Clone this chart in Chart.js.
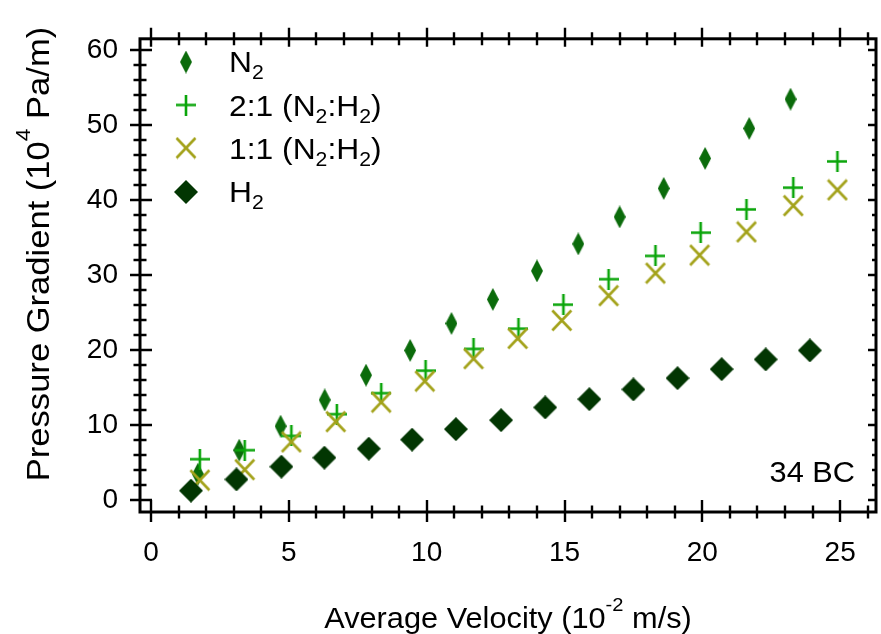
<!DOCTYPE html>
<html>
<head>
<meta charset="utf-8">
<script src="https://cdn.jsdelivr.net/npm/chart.js@4.4.1/dist/chart.umd.min.js"></script>
<style>
html,body{margin:0;padding:0;background:#ffffff;}
canvas{display:block;}
</style>
</head>
<body>
<canvas id="c" width="881" height="634"></canvas>
<script>
// ---------- data ----------
const n2X   = [1.7, 3.2, 4.7, 6.3, 7.8, 9.4, 10.9, 12.4, 14.0, 15.5, 17.0, 18.6, 20.1, 21.7, 23.2];
const n2Y   = [3.5, 6.7, 9.9, 13.4, 16.7, 20.0, 23.6, 26.8, 30.6, 34.2, 37.8, 41.6, 45.6, 49.6, 53.5];

const mix21X = [1.77, 3.4, 5.09, 6.74, 8.35, 9.96, 11.7, 13.33, 14.96, 16.6, 18.3, 19.94, 21.6, 23.3, 24.9];
const mix21Y = [5.5, 6.7, 8.6, 11.5, 14.3, 17.3, 20.2, 22.9, 26.1, 29.5, 32.6, 35.7, 38.8, 41.7, 45.2];

const mix11X = [1.77, 3.4, 5.09, 6.7, 8.35, 9.93, 11.7, 13.3, 14.9, 16.6, 18.3, 19.9, 21.6, 23.3, 24.9];
const mix11Y = [2.7, 4.1, 7.8, 10.5, 13.1, 15.9, 18.9, 21.6, 24.0, 27.3, 30.3, 32.7, 35.8, 39.3, 41.4];

const h2X   = [1.45, 3.1, 4.73, 6.29, 7.9, 9.47, 11.06, 12.7, 14.3, 15.9, 17.5, 19.1, 20.7, 22.3, 23.9];
const h2Y   = [1.3, 2.8, 4.5, 5.7, 6.9, 8.1, 9.5, 10.7, 12.4, 13.5, 14.8, 16.3, 17.5, 18.8, 20.0];

const xTickLabels = [0, 5, 10, 15, 20, 25];
const yTickLabels = [0, 10, 20, 30, 40, 50, 60];
const xMinorTicks = [0,1,2,3,4,5,6,7,8,9,10,11,12,13,14,15,16,17,18,19,20,21,22,23,24,25,26];
const yMinorTicks = [0,2,4,6,8,10,12,14,16,18,20,22,24,26,28,30,32,34,36,38,40,42,44,46,48,50,52,54,56,58,60];

// legend labels: [text, kind] kind 0 normal, -1 subscript, 1 superscript
const legendLabels = [
  [['N',0],['2',-1]],
  [['2:1 (N',0],['2',-1],[':H',0],['2',-1],[')',0]],
  [['1:1 (N',0],['2',-1],[':H',0],['2',-1],[')',0]],
  [['H',0],['2',-1]]
];
const xTitle = [['Average Velocity (10',0],['-2',1],[' m/s)',0]];
const yTitle = [['Pressure Gradient (10',0],['4',1],[' Pa/m)',0]];
const annotationText = '34 BC';

// ---------- styles ----------
const FONT = '"Liberation Sans", Arial, Helvetica, sans-serif';
const colN2 = '#0b6b0b', col21 = '#0aa50a', col11 = '#a3a21a', colH2 = '#023602';

function makeMarker(w, h, draw) {
  const c = document.createElement('canvas');
  c.width = w; c.height = h;
  draw(c.getContext('2d'), w, h);
  return c;
}
const mkN2 = makeMarker(12, 23, (g, w, h) => {
  g.fillStyle = colN2; g.beginPath();
  g.moveTo(w/2, 0); g.lineTo(w, h/2); g.lineTo(w/2, h); g.lineTo(0, h/2); g.closePath(); g.fill();
});
const mk21 = makeMarker(20, 21, (g, w, h) => {
  g.strokeStyle = col21; g.lineWidth = 2.6; g.beginPath();
  g.moveTo(0, h/2); g.lineTo(w, h/2); g.moveTo(w/2, 0); g.lineTo(w/2, h); g.stroke();
});
const mk11 = makeMarker(22, 23, (g, w, h) => {
  g.strokeStyle = col11; g.lineWidth = 2.6; g.beginPath();
  g.moveTo(1.5, 1.5); g.lineTo(w-1.5, h-1.5); g.moveTo(w-1.5, 1.5); g.lineTo(1.5, h-1.5); g.stroke();
});
const mkH2 = makeMarker(24, 24, (g, w, h) => {
  g.fillStyle = colH2; g.beginPath();
  g.moveTo(w/2, 0); g.lineTo(w, h/2); g.lineTo(w/2, h); g.lineTo(0, h/2); g.closePath(); g.fill();
});
const markers = [mkN2, mk21, mk11, mkH2];

function pts(xs, ys) { return xs.map((x, i) => ({x: x, y: ys[i]})); }

// ---------- rich text helper ----------
function drawRich(ctx, parts, x, y, size, sx, align) {
  ctx.save();
  ctx.translate(x, y);
  ctx.scale(sx, 1);
  ctx.textBaseline = 'alphabetic';
  ctx.textAlign = 'left';
  const fontOf = k => (k === 0 ? size : Math.round(size * 0.66)) + 'px ' + FONT;
  let w = 0;
  parts.forEach(p => { ctx.font = fontOf(p[1]); w += ctx.measureText(p[0]).width; });
  let cx = align === 'center' ? -w / 2 : (align === 'right' ? -w : 0);
  parts.forEach(p => {
    ctx.font = fontOf(p[1]);
    const dy = p[1] === 1 ? -size * 0.6 : (p[1] === -1 ? size * 0.22 : 0);
    ctx.fillText(p[0], cx, dy);
    cx += ctx.measureText(p[0]).width;
  });
  ctx.restore();
}

const framePlugin = {
  id: 'frame',
  afterDatasetsDraw(chart) {
    const ctx = chart.ctx, a = chart.chartArea, xs = chart.scales.x, ys = chart.scales.y;
    ctx.save();
    ctx.strokeStyle = '#000';
    ctx.lineWidth = 2.4;
    ctx.beginPath();
    xMinorTicks.forEach(v => {
      const px = Math.round(xs.getPixelForValue(v));
      const major = xTickLabels.includes(v);
      ctx.moveTo(px, a.bottom - (major ? 12 : 6.5)); ctx.lineTo(px, a.bottom + (major ? 10 : 6.5));
      ctx.moveTo(px, a.top - (major ? 11 : 6.5)); ctx.lineTo(px, a.top + (major ? 8 : 6.5));
    });
    yMinorTicks.forEach(v => {
      const py = Math.round(ys.getPixelForValue(v));
      const major = yTickLabels.includes(v);
      ctx.moveTo(a.left - (major ? 10 : 6.5), py); ctx.lineTo(a.left + (major ? 12 : 6.5), py);
      ctx.moveTo(a.right - (major ? 8 : 4), py); ctx.lineTo(a.right, py);
    });
    ctx.stroke();
    ctx.lineWidth = 3;
    ctx.strokeRect(a.left, a.top, a.right - a.left, a.bottom - a.top);
    ctx.restore();
  },
  afterDraw(chart) {
    const ctx = chart.ctx, a = chart.chartArea;
    ctx.save();
    ctx.fillStyle = '#000';
    drawRich(ctx, xTitle, (a.left + a.right) / 2, 628, 29, 1.06, 'center');
    ctx.save();
    ctx.translate(49, 254);
    ctx.rotate(-Math.PI / 2);
    drawRich(ctx, yTitle, 0, 0, 32, 1.08, 'center');
    ctx.restore();
    drawRich(ctx, [[annotationText, 0]], 855, 482, 29, 1.06, 'right');
    const rowY = [62, 105, 148, 192];
    const base = [72, 116, 159, 202];
    legendLabels.forEach((lab, i) => {
      const m = markers[i];
      ctx.drawImage(m, 186 - m.width / 2, rowY[i] - m.height / 2);
      drawRich(ctx, lab, 229, base[i], 30, 1.06, 'left');
    });
    ctx.restore();
  }
};

const tickFont = {family: FONT, size: 28};

new Chart(document.getElementById('c'), {
  type: 'scatter',
  data: {
    datasets: [
      {label: 'N2', data: pts(n2X, n2Y), pointStyle: mkN2, order: 4, showLine: false},
      {label: '2:1 (N2:H2)', data: pts(mix21X, mix21Y), pointStyle: mk21, order: 3, showLine: false},
      {label: '1:1 (N2:H2)', data: pts(mix11X, mix11Y), pointStyle: mk11, order: 2, showLine: false},
      {label: 'H2', data: pts(h2X, h2Y), pointStyle: mkH2, order: 1, showLine: false}
    ]
  },
  options: {
    responsive: false,
    animation: false,
    devicePixelRatio: 1,
    layout: {padding: {top: 22, right: 2, left: 0, bottom: 0}},
    plugins: {legend: {display: false}, tooltip: {enabled: false}, title: {display: false}},
    scales: {
      x: {
        type: 'linear', min: -0.4, max: 26.3,
        afterBuildTicks: s => { s.ticks = xTickLabels.map(v => ({value: v})); },
        afterFit: s => { s.height = 122; },
        grid: {display: false, drawTicks: false},
        border: {display: false},
        ticks: {font: tickFont, color: '#000', padding: 24, maxRotation: 0, autoSkip: false}
      },
      y: {
        type: 'linear', min: -1.55, max: 61.55,
        afterBuildTicks: s => { s.ticks = yTickLabels.map(v => ({value: v})); },
        afterFit: s => { s.width = 140; },
        grid: {display: false, drawTicks: false},
        border: {display: false},
        ticks: {font: tickFont, color: '#000', padding: 22, autoSkip: false}
      }
    }
  },
  plugins: [framePlugin]
});
</script>
</body>
</html>
